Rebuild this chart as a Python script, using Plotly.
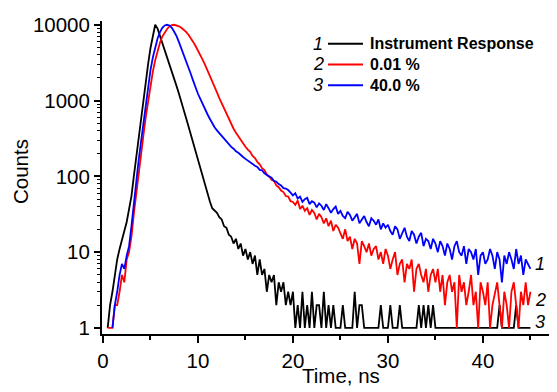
import plotly.graph_objects as go

# Time grid (ns), channel width 0.25 ns
time_ns = [i * 0.25 for i in range(181)]

instrument_response = [
    None, None, 1, 2, 3, 5, 8, 11, 15, 19, 25, 36, 55, 100, 180, 320, 560, 1000, 1800, 3000,
    4900, 7400, 10000, 8900, 7200, 5750, 4570, 3630, 2880, 2340, 1900, 1550, 1230, 980, 760, 590, 457, 355, 275, 209,
    158, 123, 93, 72, 58, 47, 38, 35, 33, 29, 27, 22, 21, 17, 16, 13, 15, 11, 13, 9,
    11, 8, 10, 7, 9, 5, 8, 5, 6, 3, 5, 4, 5, 2, 4, 3, 4, 2, 3, 2,
    3, 1, 2, 1, 3, 1, 2, 1, 3, 1, 2, 2, 1, 3, 1, 2, 1, 2, 1, 1,
    1, 2, 1, 1, 1, 1, 3, 1, 2, 2, 1, 1, 1, 1, 1, 1, 1, 2, 1, 1,
    1, 2, 1, 1, 1, 2, 1, 1, 1, 1, 1, 1, 1, 2, 1, 2, 1, 2, 1, 2,
    1, 1, 1, 1, 1, 1, 1, 1, 1, 1, 1, 1, 1, 1, 1, 1, 1, 1, 1, 1,
    1, 1, 1, 1, 1, 1, 1, 2, 1, 1, 1, 1, 1, 1, 2, 1, 1, 1, 1, 1,
    1,
]

conc_001 = [
    None, None, 1, 1, 1, 2, 2, 3, 5, 4, 8, 10, 16, 32, 60, 110, 190, 340, 600, 1000,
    1600, 2400, 3400, 4600, 5800, 7000, 8000, 8800, 9500, 9900, 10000, 9850, 9550, 9150, 8650, 8050, 7400, 6700, 5950, 5250,
    4600, 4000, 3450, 2950, 2520, 2140, 1800, 1520, 1280, 1080, 920, 780, 665, 570, 490, 425, 375, 335, 298, 270,
    246, 226, 211, 186, 174, 155, 144, 128, 121, 106, 100, 90, 87, 76, 72, 65, 62, 55, 54, 47,
    46, 42, 48, 37, 41, 35, 38, 31, 36, 33, 27, 32, 29, 24, 28, 22, 26, 19, 23, 21,
    18, 15, 20, 14, 16, 11, 15, 13, 7, 14, 12, 10, 13, 9, 11, 12, 8, 10, 7, 11,
    9, 6, 8, 10, 5, 7, 8, 4, 7, 6, 8, 3, 6, 7, 5, 4, 6, 3, 5, 6,
    4, 6, 3, 5, 2, 4, 5, 3, 4, 1, 5, 3, 4, 2, 3, 5, 2, 3, 1, 4,
    3, 2, 4, 1, 2, 3, 4, 2, 1, 3, 2, 1, 3, 4, 2, 1, 3, 2, 4, 2,
    3,
]

conc_400 = [
    None, None, None, None, 1, 2, 3, 5, 7, 6, 9, 12, 22, 45, 85, 160, 280, 500, 900, 1550,
    2500, 3700, 5100, 6600, 8000, 9100, 9800, 10000, 9800, 9100, 8100, 7100, 5900, 4900, 4100, 3300, 2700, 2240, 1820, 1480,
    1230, 1050, 890, 760, 660, 575, 500, 445, 405, 372, 338, 310, 282, 268, 245, 232, 214, 205, 190, 180,
    170, 160, 155, 146, 138, 133, 122, 120, 110, 104, 99, 96, 87, 85, 79, 76, 70, 69, 66, 61,
    56, 60, 51, 54, 46, 50, 52, 43, 47, 45, 39, 44, 41, 36, 43, 38, 33, 37, 40, 32,
    35, 30, 28, 34, 31, 26, 29, 32, 24, 27, 30, 25, 22, 28, 26, 23, 27, 20, 24, 21,
    23, 19, 17, 22, 20, 15, 18, 21, 16, 14, 19, 17, 13, 16, 18, 12, 15, 14, 11, 15,
    13, 10, 14, 12, 9, 13, 11, 8, 12, 14, 10, 9, 12, 7, 11, 10, 8, 11, 5, 9,
    10, 7, 8, 11, 9, 6, 10, 8, 4, 9, 7, 10, 8, 6, 11, 7, 9, 5, 8, 7,
    6,
]

series_names = ["Instrument Response", "0.01 %", "40.0 %"]
series_colors = ["#000000", "#FF0000", "#0000FF"]
series_values = [instrument_response, conc_001, conc_400]

y_tickvals = [1, 10, 100, 1000, 10000]
y_ticktext = ["1", "10", "100", "1000", "10000"]
x_tickvals = [0, 10, 20, 30, 40]
x_minor = [5, 15, 25, 35, 45]
y_minor = [m * 10 ** d for d in range(4) for m in range(2, 10)]

FONT = "Arial, Liberation Sans, sans-serif"

fig = go.Figure()
for name, col, vals in zip(series_names, series_colors, series_values):
    fig.add_trace(go.Scatter(x=time_ns, y=vals, mode="lines", name=name,
                             line=dict(color=col, width=1.8), showlegend=False))

# plot area geometry in page pixels (the page body adds an 8px offset)
OFF = 8
L, R, T, B = 102, 552, 17, 334
W, H = R - L, B - T
px = lambda x: (x - L) / W
py = lambda y: (B - y) / H

ann = []
shapes = []
legend_rows = [40, 61, 82]
for i, (name, col) in enumerate(zip(series_names, series_colors)):
    yy = py(legend_rows[i])
    ann.append(dict(x=px(318), y=yy, xref="paper", yref="paper", text=f"<i>{i+1}</i>",
                    showarrow=False, xanchor="center", yanchor="middle",
                    font=dict(family=FONT, size=18, color="black")))
    ann.append(dict(x=px(368), y=yy, xref="paper", yref="paper", text=f"<b>{name}</b>",
                    showarrow=False, xanchor="left", yanchor="middle",
                    font=dict(family=FONT, size=16, color="black")))
    shapes.append(dict(type="line", xref="paper", yref="paper", x0=px(328), x1=px(363),
                       y0=yy, y1=yy, line=dict(color=col, width=2)))

for lab, yy in zip(["1", "2", "3"], [263, 300, 322]):
    ann.append(dict(x=px(540), y=py(yy), xref="paper", yref="paper", text=f"<i>{lab}</i>",
                    showarrow=False, xanchor="center", yanchor="middle",
                    font=dict(family=FONT, size=18, color="black")))

ann.append(dict(x=px(20), y=py(170), xref="paper", yref="paper", text="Counts", textangle=-90,
                showarrow=False, xanchor="center", yanchor="middle",
                font=dict(family=FONT, size=20.5, color="black")))
ann.append(dict(x=px(341), y=py(376), xref="paper", yref="paper", text="Time, ns",
                showarrow=False, xanchor="center", yanchor="middle",
                font=dict(family=FONT, size=20.5, color="black")))

fig.update_layout(
    width=557 - OFF, height=392 - OFF,
    margin=dict(l=L - OFF, r=557 - R, t=T - OFF, b=392 - B, pad=0),
    paper_bgcolor="white", plot_bgcolor="white",
    annotations=ann, shapes=shapes, showlegend=False,
    xaxis=dict(range=[-0.1, 47.27], showline=True, linewidth=2, linecolor="black",
               ticks="outside", ticklen=7, tickwidth=1.5, tickcolor="black",
               tickmode="array", tickvals=x_tickvals, showgrid=False, zeroline=False,
               tickfont=dict(family=FONT, size=20.5, color="black"),
               minor=dict(tickmode="array", tickvals=x_minor, ticks="outside",
                          ticklen=4, tickwidth=1.5, tickcolor="black", showgrid=False)),
    yaxis=dict(type="log", range=[-0.08, 4.05], showline=True, linewidth=2, linecolor="black",
               ticks="outside", ticklen=6, tickwidth=1.5, tickcolor="black",
               tickmode="array", tickvals=y_tickvals, ticktext=y_ticktext,
               showgrid=False, zeroline=False,
               tickfont=dict(family=FONT, size=20.5, color="black"),
               minor=dict(tickmode="array", tickvals=y_minor, ticks="outside",
                          ticklen=3, tickwidth=1, tickcolor="black", showgrid=False)),
)

fig.write_html("out.html")
